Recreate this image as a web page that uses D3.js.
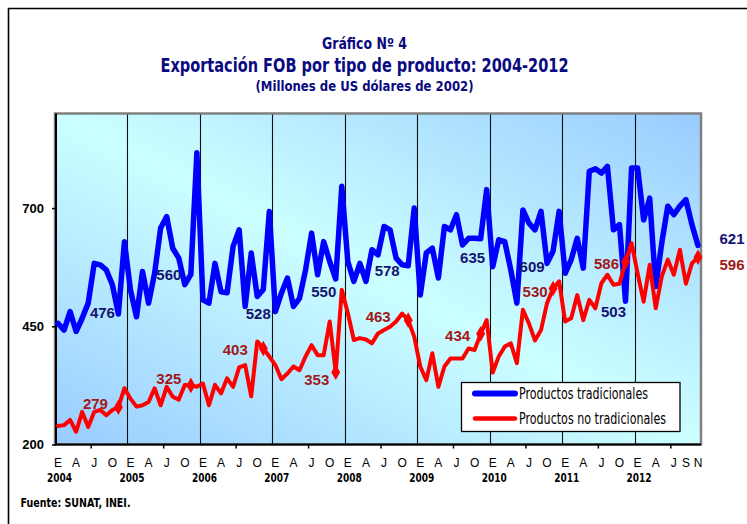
<!DOCTYPE html>
<html>
<head>
<meta charset="utf-8">
<script src="https://cdn.jsdelivr.net/npm/d3@7"></script>
<style>
  html, body { margin: 0; padding: 0; background: #fff; }
  svg { display: block; }
</style>
</head>
<body>
<svg id="chart" width="747" height="524"></svg>
<script>
// ---------------- DATA ----------------
const years = [2004, 2005, 2006, 2007, 2008, 2009, 2010, 2011, 2012];
const monthLetters = ["E", "F", "M", "A", "M", "J", "J", "A", "S", "O", "N", "D"];
const lastMonthCount = 11; // 2012 ends in November

// Productos tradicionales (monthly, E 2004 .. N 2012)
const tradicionales = [
  456, 442, 481, 439, 467, 499, 583, 580, 569, 538, 476, 629,
  527, 470, 566, 499, 562, 658, 682, 615, 594, 538, 560, 817,
  506, 499, 583, 523, 521, 619, 654, 492, 605, 513, 528, 693,
  481, 520, 552, 492, 509, 569, 647, 559, 629, 587, 550, 746,
  587, 545, 583, 545, 612, 601, 661, 654, 594, 580, 578, 700,
  516, 605, 615, 552, 661, 654, 686, 622, 636, 636, 635, 739,
  576, 633, 629, 569, 499, 696, 668, 654, 693, 583, 609, 693,
  562, 591, 636, 573, 778, 783, 774, 788, 654, 665, 503, 785,
  785, 675, 721, 534, 626, 704, 686, 704, 718, 665, 621
];
// Productos no tradicionales
const noTradicionales = [
  239, 241, 252, 227, 269, 237, 269, 273, 262, 273, 279, 319,
  297, 280, 283, 290, 319, 283, 322, 301, 295, 326, 325, 322,
  329, 283, 326, 308, 340, 322, 363, 368, 302, 418, 403, 386,
  368, 338, 350, 365, 357, 386, 410, 389, 389, 460, 353, 527,
  478, 421, 425, 422, 414, 435, 442, 449, 460, 477, 463, 428,
  365, 336, 393, 322, 365, 382, 382, 382, 403, 400, 434, 463,
  352, 386, 407, 414, 372, 485, 456, 420, 442, 499, 530, 545,
  460, 467, 516, 463, 506, 488, 541, 559, 538, 540, 586, 626,
  562, 502, 580, 488, 555, 591, 559, 612, 540, 583, 596
];
const seriesNames = ["Productos tradicionales", "Productos no tradicionales"];
const yTicks = [200, 450, 700];
const yDomain = [200, 900];
const xMonthLabelIdx = [0, 3, 6, 9];          // E A J O in each year
const xMonthLabelIdxLast = [0, 3, 6, 8, 10];  // E A J S N in 2012
const novBlueLabels = ["476", "560", "528", "550", "578", "635", "609", "503", "621"];
const novRedLabels  = ["279", "325", "403", "353", "463", "434", "530", "586", "596"];
const titleLines = ["Gráfico Nº 4", "Exportación FOB por tipo de producto: 2004-2012", "(Millones de US dólares de 2002)"];
const sourceNote = "Fuente: SUNAT, INEI.";

// --------------- LAYOUT ----------------
const blueLabelOffsets = [[-16,-1],[-22,0],[-5,24],[-12,13],[-21,5],[-8,19],[-21,15],[-12,10],[34,-7]];
const redLabelOffsets  = [[-23,-4],[-22,-7],[-28,1.5],[-19,7],[-30,-4],[-23,2],[-18,3.5],[-19,2],[34,7]];

const NARROW = "'Liberation Sans Narrow','Arial Narrow','DejaVu Sans Condensed',sans-serif";
const SANS = "'Liberation Sans',Arial,Helvetica,sans-serif";

const categories = [];
years.forEach((y, yi) => {
  const n = yi === years.length - 1 ? lastMonthCount : 12;
  for (let m = 0; m < n; m++) categories.push(y + "-" + (m + 1));
});

const svg = d3.select("#chart");

const plot = { left: 55, right: 701, top: 113.5, bottom: 444.5 };

const x = d3.scaleBand().domain(categories).range([plot.left, plot.right]).padding(0);
const cx = c => x(c) + x.bandwidth() / 2;
const y = d3.scaleLinear().domain(yDomain).range([plot.bottom, plot.top]);

// outer frame
svg.append("path").attr("d", "M8.5,524 V8.5 H747")
  .attr("fill", "none").attr("stroke", "#000").attr("stroke-width", 1.6);

// gradient
const defs = svg.append("defs");
const grad = defs.append("linearGradient").attr("id", "bg")
  .attr("x1", 0).attr("y1", 1).attr("x2", 1).attr("y2", 0);
grad.append("stop").attr("offset", 0).attr("stop-color", "#99ccff");
grad.append("stop").attr("offset", 0.5).attr("stop-color", "#ccffff");
grad.append("stop").attr("offset", 1).attr("stop-color", "#99ccff");

svg.append("rect")
  .attr("x", plot.left).attr("y", plot.top)
  .attr("width", plot.right - plot.left).attr("height", plot.bottom - plot.top)
  .attr("fill", "url(#bg)").attr("stroke", "#808080").attr("stroke-width", 2.5);

// year separators
const yearStarts = categories.filter(c => c.endsWith("-1")).slice(1);
svg.append("g").selectAll("line").data(yearStarts).join("line")
  .attr("x1", c => Math.round(x(c)) + 0.5).attr("x2", c => Math.round(x(c)) + 0.5)
  .attr("y1", plot.top + 1).attr("y2", plot.bottom)
  .attr("stroke", "#111").attr("stroke-width", 1.1);

// Y axis
const yAxis = svg.append("g").attr("transform", `translate(${plot.left + 1},0)`)
  .call(d3.axisLeft(y).tickValues(yTicks).tickSize(4).tickPadding(8).tickFormat(d3.format("d")));
yAxis.select(".domain").attr("stroke", "#000").attr("stroke-width", 2)
  .attr("d", `M0,${plot.top}V${plot.bottom}`);
yAxis.selectAll(".tick line").attr("stroke", "#000").attr("stroke-width", 1.5);
yAxis.selectAll(".tick text").attr("font-family", SANS).attr("font-size", 13)
  .attr("font-weight", "bold").attr("fill", "#000");

// X axis baseline
svg.append("line").attr("x1", plot.left).attr("x2", plot.right)
  .attr("y1", plot.bottom).attr("y2", plot.bottom)
  .attr("stroke", "#000").attr("stroke-width", 2);

// X ticks at mid-year boundaries
const midYear = categories.filter(c => c.endsWith("-7"));
svg.append("g").selectAll("line").data(midYear).join("line")
  .attr("x1", c => x(c)).attr("x2", c => x(c))
  .attr("y1", plot.bottom).attr("y2", plot.bottom + 4)
  .attr("stroke", "#000").attr("stroke-width", 1.5);

// month labels
const monthLabelData = [];
years.forEach((yr, yi) => {
  const idx = yi === years.length - 1 ? xMonthLabelIdxLast : xMonthLabelIdx;
  idx.forEach(m => monthLabelData.push({ c: yr + "-" + (m + 1), t: monthLetters[m] }));
});
svg.append("g").selectAll("text").data(monthLabelData).join("text")
  .attr("x", d => cx(d.c)).attr("y", 466.5)
  .attr("text-anchor", "middle").attr("font-family", SANS).attr("font-size", 12)
  .attr("fill", "#000").text(d => d.t);

// year labels
svg.append("g").selectAll("text").data(years).join("text")
  .attr("x", yr => cx(yr + "-1") + 1.5).attr("y", 481.5)
  .attr("text-anchor", "middle").attr("font-family", NARROW).attr("font-size", 13)
  .attr("font-weight", "bold").attr("fill", "#000")
  .attr("textLength", 25).attr("lengthAdjust", "spacingAndGlyphs")
  .text(yr => yr);

// lines
const line = d3.line().x((d, i) => cx(categories[i])).y(d => y(d)).curve(d3.curveLinear);

svg.append("path").datum(tradicionales).attr("d", line)
  .attr("fill", "none").attr("stroke", "#0000ff").attr("stroke-width", 5.5)
  .attr("stroke-linejoin", "round").attr("stroke-linecap", "round");

svg.append("path").datum(noTradicionales).attr("d", line)
  .attr("fill", "none").attr("stroke", "#ff0000").attr("stroke-width", 4)
  .attr("stroke-linejoin", "round").attr("stroke-linecap", "round");

// November markers (red diamonds)
const novIdx = categories.map((c, i) => c.endsWith("-11") ? i : -1).filter(i => i >= 0);
svg.append("g").selectAll("path").data(novIdx).join("path")
  .attr("transform", i => `translate(${cx(categories[i])},${y(noTradicionales[i])})`)
  .attr("d", d3.symbol(d3.symbolDiamond, 70))
  .attr("fill", "#ff0000");

// November value labels
svg.append("g").selectAll("text").data(novIdx).join("text")
  .attr("x", (i, k) => cx(categories[i]) + blueLabelOffsets[k][0])
  .attr("y", (i, k) => y(tradicionales[i]) + blueLabelOffsets[k][1])
  .attr("dy", "0.36em").attr("text-anchor", "middle")
  .attr("font-family", SANS).attr("font-size", 15).attr("font-weight", "bold")
  .attr("fill", "#141470").text((i, k) => novBlueLabels[k]);

svg.append("g").selectAll("text").data(novIdx).join("text")
  .attr("x", (i, k) => cx(categories[i]) + redLabelOffsets[k][0])
  .attr("y", (i, k) => y(noTradicionales[i]) + redLabelOffsets[k][1])
  .attr("dy", "0.36em").attr("text-anchor", "middle")
  .attr("font-family", SANS).attr("font-size", 15).attr("font-weight", "bold")
  .attr("fill", "#a01818").text((i, k) => novRedLabels[k]);

// legend
const lg = svg.append("g");
lg.append("rect").attr("x", 461.5).attr("y", 382.5).attr("width", 218.5).attr("height", 49)
  .attr("fill", "#fff").attr("stroke", "#000").attr("stroke-width", 1.3);
const legendColors = ["#0000ff", "#ff0000"];
const legendWidths = [6, 4.5];
const legendLens = [129, 147];
seriesNames.forEach((name, k) => {
  const ly = 393.5 + k * 25;
  lg.append("line").attr("x1", 475).attr("x2", 515).attr("y1", ly).attr("y2", ly)
    .attr("stroke", legendColors[k]).attr("stroke-width", legendWidths[k]).attr("stroke-linecap", "round");
  lg.append("text").attr("x", 519).attr("y", ly + 5.5)
    .attr("font-family", NARROW).attr("font-size", 15).attr("fill", "#000")
    .attr("textLength", legendLens[k]).attr("lengthAdjust", "spacingAndGlyphs")
    .text(name);
});

// titles
const titleSpecs = [
  { y: 49, size: 15, len: 85 },
  { y: 72.3, size: 19.5, len: 408 },
  { y: 91, size: 14, len: 218 }
];
titleLines.forEach((t, k) => {
  svg.append("text").attr("x", 364.5).attr("y", titleSpecs[k].y)
    .attr("text-anchor", "middle").attr("font-family", NARROW)
    .attr("font-size", titleSpecs[k].size).attr("font-weight", "bold").attr("fill", "#0a0a80")
    .attr("textLength", titleSpecs[k].len).attr("lengthAdjust", "spacingAndGlyphs")
    .text(t);
});

// source
svg.append("text").attr("x", 20.5).attr("y", 506.5)
  .attr("font-family", NARROW).attr("font-size", 12.5).attr("font-weight", "bold").attr("fill", "#000")
  .attr("textLength", 110).attr("lengthAdjust", "spacingAndGlyphs")
  .text(sourceNote);
</script>
</body>
</html>
